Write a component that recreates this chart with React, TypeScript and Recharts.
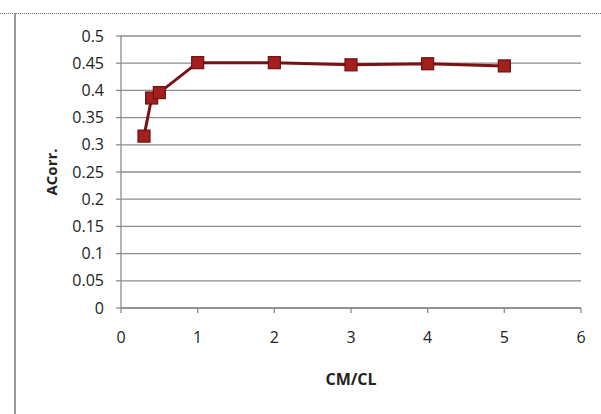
import React from "react";
import { LineChart, Line, XAxis, YAxis, CartesianGrid } from "recharts";

const ratios = [0.3, 0.4, 0.5, 1, 2, 3, 4, 5];
const acorr = [0.316, 0.386, 0.396, 0.451, 0.451, 0.447, 0.449, 0.445];
const xTicks = [0, 1, 2, 3, 4, 5, 6];
const yTicks = [0, 0.05, 0.1, 0.15, 0.2, 0.25, 0.3, 0.35, 0.4, 0.45, 0.5];

const data = ratios.map((r, i) => ({ x: r, y: acorr[i] }));

const FONT = "'Open Sans', 'Liberation Sans', sans-serif";
const AXIS = "#8c8c8c";

const SquareDot = (props: any) => {
  const { cx, cy } = props;
  if (cx == null || cy == null) return null;
  return (
    <rect
      x={cx - 6}
      y={cy - 6}
      width={12}
      height={12}
      fill="#a3201f"
      stroke="#6e0f10"
      strokeWidth={1.2}
    />
  );
};

export default function App() {
  return (
    <div style={{ position: "absolute", left: 0, top: 0, width: 601, height: 414, background: "#fff" }}>
      <div
        style={{
          position: "absolute",
          left: 0,
          top: 13,
          width: 601,
          height: 0,
          borderTop: "1px dotted #777",
        }}
      />
      <div
        style={{
          position: "absolute",
          left: 14,
          top: 13,
          width: 0,
          height: 401,
          borderLeft: "2px solid #999",
        }}
      />
      <div style={{ position: "absolute", left: 0, top: 0 }}>
        <LineChart
          width={601}
          height={414}
          data={data}
          margin={{ top: 36, right: 20, bottom: 26, left: 0 }}
          style={{ fontFamily: FONT }}
        >
          <CartesianGrid horizontal={true} vertical={false} stroke={AXIS} strokeWidth={1.3} />
          <XAxis
            dataKey="x"
            type="number"
            domain={[0, 6]}
            ticks={xTicks}
            interval={0}
            height={80}
            stroke={AXIS}
            strokeWidth={1.3}
            tickSize={5}
            tickMargin={19}
            tick={{ fill: "#222", fontSize: 16, fontFamily: FONT }}
            label={{
              value: "CM/CL",
              position: "insideBottom",
              offset: 3,
              style: { fill: "#222", fontSize: 16, fontWeight: 700, fontFamily: FONT },
            }}
          />
          <YAxis
            type="number"
            domain={[0, 0.5]}
            ticks={yTicks}
            interval={0}
            width={121}
            stroke={AXIS}
            strokeWidth={1.3}
            tickSize={5}
            tickMargin={12}
            tick={{ fill: "#222", fontSize: 16, fontFamily: FONT }}
            label={{
              value: "ACorr.",
              angle: -90,
              position: "insideLeft",
              offset: 52,
              style: { fill: "#222", fontSize: 15, fontWeight: 700, fontFamily: FONT, textAnchor: "middle" },
            }}
          />
          <Line
            type="linear"
            dataKey="y"
            stroke="#7a1214"
            strokeWidth={3}
            dot={<SquareDot />}
            isAnimationActive={false}
          />
        </LineChart>
      </div>
    </div>
  );
}
